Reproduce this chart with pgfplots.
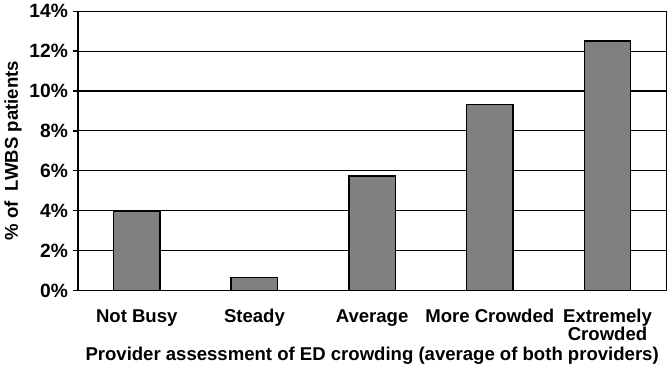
\documentclass[border=0pt]{standalone}
\usepackage{pgfplots}
\pgfplotsset{compat=1.18}
\usepackage{fontspec}
\setmainfont{Liberation Sans}
\begin{document}
\begin{tikzpicture}
\begin{axis}[
  scale only axis,
  width=444pt, height=210.75pt,
  xmin=-0.5, xmax=4.5, ymin=0, ymax=14,
  ytick={0,2,...,14},
  yticklabel={\pgfmathprintnumber{\tick}\%},
  /pgf/number format/assume math mode=true,
  ymajorgrids, grid style={black, line width=0.8pt},
  axis line style={black, line width=1pt},
  xtick={0,1,2,3,4},
  xticklabels={\rule{0pt}{11pt}Not Busy, \rule{0pt}{11pt}Steady, \rule{0pt}{11pt}Average, \rule{0pt}{11pt}More Crowded, {\rule{0pt}{11pt}Extremely\\Crowded}},
  xticklabel style={align=center, anchor=north, yshift=-5.5pt},
  major x tick style={draw=none},
  extra x ticks={0.5,1.5,2.5,3.5},
  extra x tick labels={},
  extra x tick style={major tick length=4pt, tick style={black, line width=1pt}, tick align=outside, grid=none},
  y tick style={black, line width=1pt},
  tick align=outside,
  major tick length=4pt,
  xtick pos=bottom, ytick pos=left,
  tick label style={font=\fontsize{14}{12.5}\selectfont\bfseries},
  y tick label style={font=\fontsize{14.5}{13}\selectfont\bfseries},
  label style={font=\fontsize{14}{15}\selectfont\bfseries},
  xlabel={Provider assessment of ED crowding (average of both providers)},
  ylabel={\% of\ \ LWBS patients},
  xlabel style={at={(axis description cs:0.5,0)}, anchor=center, yshift=-49pt},
  ylabel style={yshift=-1pt},
]
\addplot[ybar, bar width=35pt, fill={rgb,255:red,128;green,128;blue,128}, draw=black, line width=1.2pt]
  coordinates {(0,3.95) (1,0.65) (2,5.73) (3,9.32) (4,12.5)};
\end{axis}
\path (current bounding box.south) ++(0,-2pt) coordinate (bb);
\path (bb) -- (bb);
\end{tikzpicture}
\end{document}
